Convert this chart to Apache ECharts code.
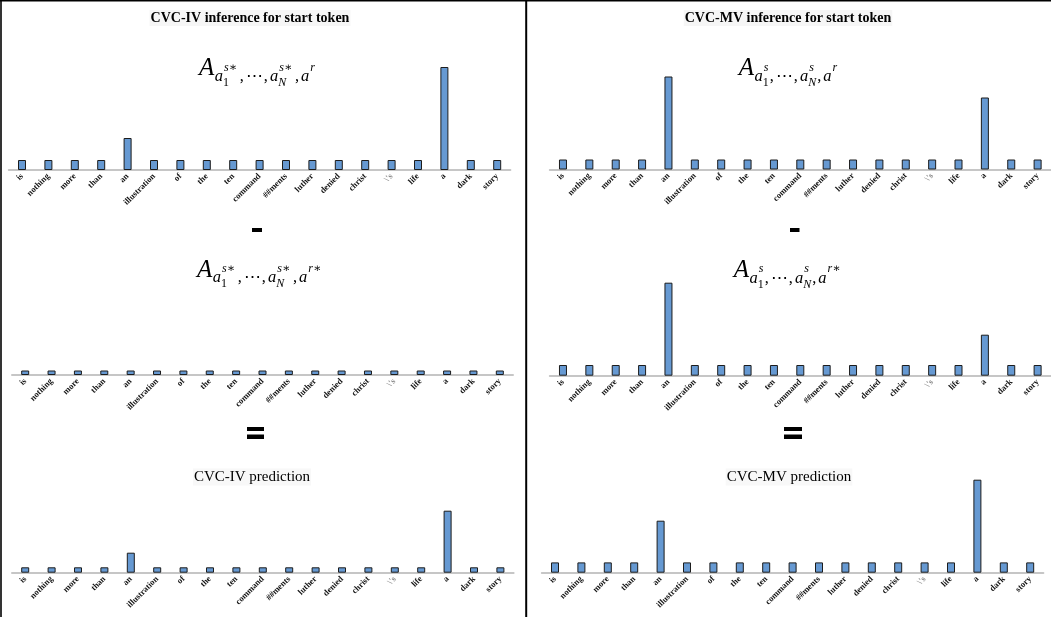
<!DOCTYPE html>
<html>
<head>
<meta charset="utf-8">
<script src="https://cdn.jsdelivr.net/npm/echarts@6/dist/echarts.min.js"></script>
<style>html,body{margin:0;padding:0;background:#fff}#c{width:1051px;height:617px}</style>
</head>
<body>
<div id="c"></div>
<script>
// ---------- DATA ----------
const categories = ['is','nothing','more','than','an','illustration','of','the','ten','command','##ments','luther','denied','christ',"\\'s",'life','a','dark','story'];

const ivStart = [0.10,0.10,0.10,0.10,0.32,0.10,0.10,0.10,0.10,0.10,0.10,0.10,0.10,0.10,0.10,0.10,1.03,0.10,0.10];
const ivStar  = [0.045,0.045,0.045,0.045,0.045,0.045,0.045,0.045,0.045,0.045,0.045,0.045,0.045,0.045,0.045,0.045,0.045,0.045,0.045];
const ivPred  = [0.054,0.054,0.054,0.054,0.20,0.054,0.054,0.054,0.054,0.054,0.054,0.054,0.054,0.054,0.054,0.054,0.62,0.054,0.054];

const mvStart = [0.10,0.10,0.10,0.10,0.93,0.10,0.10,0.10,0.10,0.10,0.10,0.10,0.10,0.10,0.10,0.10,0.72,0.10,0.10];
const mvStar  = [0.107,0.107,0.107,0.107,0.93,0.107,0.107,0.107,0.107,0.107,0.107,0.107,0.107,0.107,0.107,0.107,0.41,0.107,0.107];
const mvPred  = [0.103,0.103,0.103,0.103,0.52,0.103,0.103,0.103,0.103,0.103,0.103,0.103,0.103,0.103,0.103,0.103,0.93,0.103,0.103];

const panelTitles = ['CVC-IV inference for start token','CVC-MV inference for start token'];
const predTitles = ['CVC-IV prediction','CVC-MV prediction'];

// ---------- LAYOUT ----------
const grids = [
  {left: 8.8,  top: 60,    width: 501.6, height: 110},
  {left: 12,   top: 265,   width: 501,   height: 110},
  {left: 12,   top: 462.7, width: 501.6, height: 110},
  {left: 549.8,top: 59.5,  width: 501,   height: 110},
  {left: 549.8,top: 265.7, width: 501,   height: 110},
  {left: 541.8,top: 462.7, width: 501.6, height: 110}
];
const seriesData = [ivStart, ivStar, ivPred, mvStart, mvStar, mvPred];

const SERIF = '"Liberation Serif", "DejaVu Serif", serif';
const catData = categories.map(c => c === "\\'s" ? {value: c, textStyle: {color: '#8a8a8a'}} : c);

const xAxes = grids.map((g, i) => ({
  type: 'category', gridIndex: i, data: catData,
  axisLine: {show: true, lineStyle: {color: '#c6c6c6', width: 2}},
  axisTick: {show: false},
  axisLabel: {interval: 0, rotate: 45, fontSize: 8.6, fontWeight: 'bold', fontFamily: SERIF, color: '#111', margin: 5}
}));
const yAxes = grids.map((g, i) => ({type: 'value', gridIndex: i, min: 0, max: 1.1, show: false}));
const series = seriesData.map((d, i) => ({
  type: 'bar', xAxisIndex: i, yAxisIndex: i, data: d, barWidth: 8,
  itemStyle: {color: '#6699d2', borderColor: '#1c1c1c', borderWidth: 1},
  silent: true
}));

// ---------- MATH TEXT ----------
const mctx = document.createElement('canvas').getContext('2d');
function tw(t, size, it) { mctx.font = (it ? 'italic ' : '') + size + 'px "Liberation Serif"'; return mctx.measureText(t).width; }
function mathText(cx, baseY, tokens) {
  const items = []; let x = 0;
  tokens.forEach(tk => {
    if (tk.stack) {
      const ws = tw(tk.sup, tk.size, true);
      const wb = tk.sub ? tw(tk.sub, tk.size, tk.subIt) : 0;
      items.push({t: tk.sup, x: x + (tk.pre || 0), dy: tk.supDy, size: tk.size, it: true});
      if (tk.sub) items.push({t: tk.sub, x: x, dy: tk.subDy, size: tk.size, it: !!tk.subIt});
      x += Math.max(ws + (tk.pre || 0), wb) + (tk.gap || 0);
    } else {
      items.push({t: tk.t, x: x + (tk.pre || 0), dy: tk.dy, size: tk.size, it: tk.it !== false});
      x += tw(tk.t, tk.size, tk.it !== false) + (tk.pre || 0) + (tk.gap || 0);
    }
  });
  const left = cx - x / 2;
  return items.map(it => ({
    type: 'text', x: left + it.x, y: baseY + it.dy - 0.33 * it.size, silent: true,
    style: {text: it.t, fontSize: it.size, fontFamily: SERIF, fontStyle: it.it ? 'italic' : 'normal',
            fill: '#000', textAlign: 'left', textVerticalAlign: 'middle', align: 'left', verticalAlign: 'middle'}
  }));
}
function formulaTokens(sup, last) {
  const S = 16.5, SS = 12;
  return [
    {t: 'A', size: 25, dy: 0, gap: 0.5},
    {t: 'a', size: S, dy: 5},
    {stack: true, sup: sup, sub: '1', size: SS, supDy: -5.5, subDy: 9.7, pre: 1, gap: 1},
    {t: ',', size: S, dy: 5, it: false, gap: 2},
    {t: '⋯', size: S, dy: 5, it: false, gap: 1},
    {t: ',', size: S, dy: 5, it: false, gap: 2},
    {t: 'a', size: S, dy: 5},
    {stack: true, sup: sup, sub: 'N', subIt: true, size: SS, supDy: -5.5, subDy: 9.7, pre: 1, gap: 1},
    {t: ',', size: S, dy: 5, it: false, gap: 2},
    {t: 'a', size: S, dy: 5},
    {stack: true, sup: last, size: SS, supDy: -5.5, pre: 1}
  ];
}

function centerText(cx, cy, text, size, weight, bg) {
  return {type: 'text', x: cx, y: cy, silent: true,
    style: {text: text, fontSize: size, fontWeight: weight, fontFamily: SERIF, fill: '#000',
            textAlign: 'center', textVerticalAlign: 'middle', align: 'center', verticalAlign: 'middle',
            backgroundColor: bg || 'transparent', padding: bg ? [1, 1] : 0}};
}
function rect(x, y, w, h) {
  return {type: 'rect', shape: {x: x, y: y, width: w, height: h}, style: {fill: '#000'}, silent: true};
}
function line(x1, y1, x2, y2, w) {
  return {type: 'line', shape: {x1: x1, y1: y1, x2: x2, y2: y2}, style: {stroke: '#000', lineWidth: w}, silent: true};
}

const graphics = [].concat(
  [line(0, 0.8, 1051, 0.8, 1.6), line(1, 0, 1, 617, 1.6), line(526.2, 0, 526.2, 617, 2)],
  [centerText(250, 18, panelTitles[0], 14, 'bold', '#f6f6f6'), centerText(788, 18, panelTitles[1], 14, 'bold', '#f6f6f6')],
  [centerText(252, 477, predTitles[0], 15, 'normal', '#f8f8f8'), centerText(789, 477, predTitles[1], 15, 'normal', '#f8f8f8')],
  mathText(257, 77, formulaTokens('s∗', 'r')),
  mathText(788, 77, formulaTokens('s', 'r')),
  mathText(260, 278.5, formulaTokens('s∗', 'r∗')),
  mathText(788, 278.7, formulaTokens('s', 'r∗')),
  [rect(252, 228, 10, 4), rect(790, 228, 9.5, 4)],
  [rect(247, 427, 17, 4), rect(247, 434.5, 17, 4.5), rect(784, 427, 18, 4), rect(784, 434.5, 18, 4.5)]
);

const chart = echarts.init(document.getElementById('c'), null, {renderer: 'canvas'});
chart.setOption({
  backgroundColor: '#fff',
  animation: false,
  grid: grids.map(g => Object.assign({containLabel: false}, g)),
  xAxis: xAxes,
  yAxis: yAxes,
  series: series,
  graphic: graphics
});
</script>
</body>
</html>
